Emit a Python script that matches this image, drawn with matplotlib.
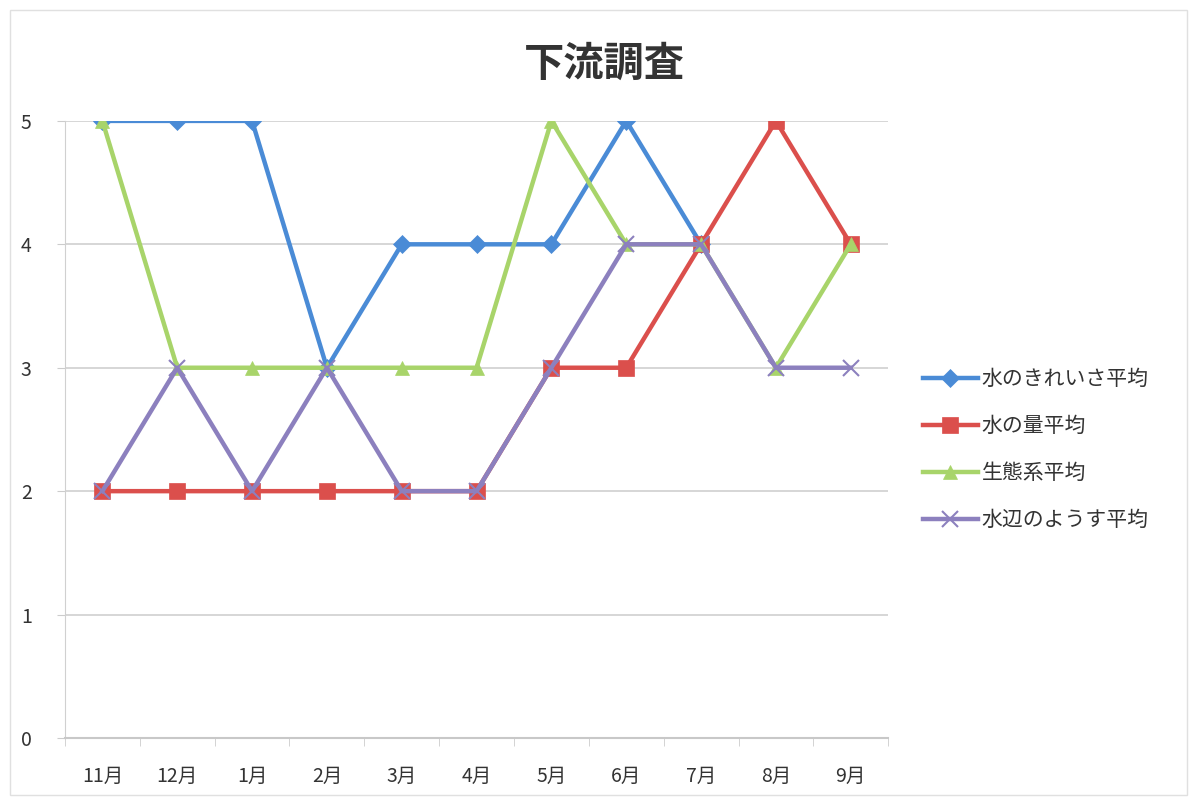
import matplotlib
matplotlib.use("Agg")
import matplotlib.pyplot as plt
import numpy as np

plt.rcParams['font.family'] = ['Noto Sans CJK JP', 'DejaVu Sans']

months = ['11月', '12月', '1月', '2月', '3月', '4月', '5月', '6月', '7月', '8月', '9月']
kirei = [5, 5, 5, 3, 4, 4, 4, 5, 4, np.nan, np.nan]
ryou = [2, 2, 2, 2, 2, 2, 3, 3, 4, 5, 4]
seitai = [5, 3, 3, 3, 3, 3, 5, 4, 4, 3, 4]
mizube = [2, 3, 2, 3, 2, 2, 3, 4, 4, 3, 3]

names = ['水のきれいさ平均', '水の量平均', '生態系平均', '水辺のようす平均']
colors = ['#4A8BD6', '#DB4F4C', '#A8D46A', '#8C80BE']
markers = ['D', 's', '^', 'x']
msizes = [9, 11, 10, 11]

fig = plt.figure(figsize=(11.97, 7.98), dpi=100)
ax = fig.add_axes([0.0543, 0.0752, 0.6877, 0.7733])

x = np.arange(len(months))
for vals, name, c, m, ms in zip([kirei, ryou, seitai, mizube], names, colors, markers, msizes):
    ax.plot(x, vals, color=c, lw=3.2, marker=m, markersize=ms,
            markeredgewidth=1.5 if m == 'x' else 0.5, markeredgecolor=c,
            markerfacecolor=c, label=name, zorder=3)

ax.set_xlim(-0.5, len(months) - 0.5)
ax.set_ylim(0, 5)
ax.set_yticks(range(0, 6))
ax.set_xticks(x)
ax.set_xticklabels(months, fontsize=14, color='#333333')
ax.set_xticks(np.arange(-0.5, len(months), 1), minor=True)
ax.tick_params(axis='x', which='major', length=0, pad=20)
ax.tick_params(axis='x', which='minor', length=6, color='#cccccc')
ax.tick_params(axis='y', length=6, color='#cccccc', labelsize=14, labelcolor='#333333', pad=18)
ax.grid(axis='y', color='#d0d0d0', lw=1.2, zorder=0)
for s in ['top', 'right']:
    ax.spines[s].set_visible(False)
ax.spines['left'].set_color('#d0d0d0')
ax.spines['bottom'].set_color('#c8c8c8')
ax.spines['bottom'].set_linewidth(1.5)

fig.text(0.505, 0.92, '下流調査', ha='center', va='center', fontsize=29,
         fontweight='bold', color='#333333')

leg = ax.legend(loc='center left', bbox_to_anchor=(1.02, 0.467), frameon=False,
                fontsize=15, labelspacing=1.2, handlelength=2.6, handletextpad=0.2)
for t in leg.get_texts():
    t.set_color('#333333')

fig.patches.append(plt.Rectangle((0.008, 0.004), 0.984, 0.984, transform=fig.transFigure,
                                 fill=False, edgecolor='#e0e0e0', lw=1))

fig.savefig('out.png', dpi=100)
